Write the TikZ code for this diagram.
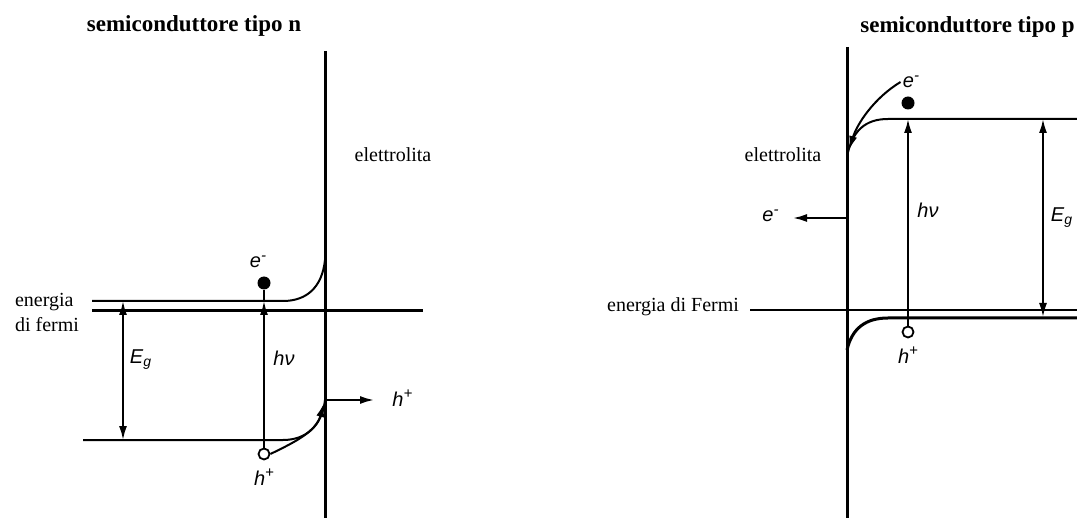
\documentclass[tikz,border=0pt]{standalone}
\usepackage{fontspec}
\setmainfont{Liberation Serif}
\setsansfont{Liberation Sans}
\usetikzlibrary{arrows.meta}
\newcommand{\upsc}[1]{\raisebox{0.7ex}{\fontsize{7.5}{8}\selectfont #1}}
\begin{document}
\begin{tikzpicture}[x=0.5pt, y=-0.5pt, font=\fontsize{10}{12.5}\selectfont,
    band/.style={line width=1pt},
    iface/.style={line width=1.5pt},
    tip/.style={-{Latex[length=7pt,width=4pt]}},
    twotip/.style={{Latex[length=7pt,width=4pt]}-{Latex[length=7pt,width=4pt]}},
    lab/.style={font=\sffamily\itshape\fontsize{10}{11}\selectfont, inner sep=1pt},
    titlelab/.style={font=\bfseries\fontsize{11.5}{13}\selectfont},
    hole/.style={circle, draw, line width=0.9pt, fill=white, minimum size=5.5pt, inner sep=0pt},
    elec/.style={circle, fill, minimum size=6.5pt, inner sep=0pt}]
  \useasboundingbox (0,0) rectangle (1077,518);
  % tipo n
  \node[titlelab] (titN) at (194,26) {semiconduttore tipo n};
  \node (elN) at (393,155) {elettrolita};
  \node[anchor=west, align=left] (fermiN) at (8,312) {energia\\di fermi};
  \draw[iface] (325,51) -- (325,518);
  \draw[iface] (92,311) -- (423,311);
  \draw[band] (92,301) -- (283,301) .. controls (306,301) and (322,288) .. (325,260);
  \draw[band] (83,440) -- (283,440) .. controls (306,440) and (322,426) .. (325,400);
  \node[elec] (eN) at (264,283) {};
  \node[hole] (hN) at (264,454) {};
  \coordinate (cbN) at (264,301);
  \draw[band] (cbN) -- (eN);
  \draw[band, tip] (hN) -- (cbN);
  \node[lab] (eLabN) at (258,262) {e\upsc{-}};
  \node[lab] (hLabN) at (264,477) {h\upsc{+}};
  \node[lab] (hvN) at (284,358) {hν};
  \coordinate (egTopN) at (123,301);
  \coordinate (egBotN) at (123,440);
  \draw[band, twotip] (egTopN) -- (egBotN);
  \node[lab] (EgN) at (141,360) {E\textsubscript{g}};
  \coordinate (exitN) at (324,403);
  \draw[band, tip] (hN.east) .. controls (293,443) and (316,432) .. (exitN);
  \coordinate (outN) at (325,400);
  \node[lab, anchor=west] (hOutN) at (390,398) {h\upsc{+}};
  \draw[band, tip, shorten >=8pt] (outN) -- (hOutN.west |- outN);
  % tipo p
  \node[titlelab, anchor=east, inner sep=1pt] (titP) at (1077,27) {semiconduttore tipo p};
  \node (elP) at (783,155) {elettrolita};
  \node[anchor=east] (fermiP) at (746,307) {energia di Fermi};
  \draw[iface] (847,47) -- (847,518);
  \draw[band] (750,310) -- (1077,310);
  \draw[band] (847,157) .. controls (852,130) and (866,119) .. (888,119) -- (1077,119);
  \draw[iface] (847,350) .. controls (852,328) and (866,318) .. (888,318) -- (1077,318);
  \node[elec] (eP) at (908,103) {};
  \node[hole] (hP) at (908,332) {};
  \coordinate (cbP) at (908,119);
  \draw[band, tip] (hP) -- (cbP);
  \node[lab] (eLabP) at (911,82) {e\upsc{-}};
  \node[lab] (hLabP) at (908,355) {h\upsc{+}};
  \node[lab] (hvP) at (928,210) {hν};
  \coordinate (egTopP) at (1043,119);
  \coordinate (egBotP) at (1043,317);
  \draw[band, twotip] (egTopP) -- (egBotP);
  \node[lab] (EgP) at (1062,218) {E\textsubscript{g}};
  \coordinate (inP) at (849,150);
  \draw[band, tip] (eLabP.west) .. controls (874,98) and (857,124) .. (inP);
  \coordinate (outP) at (847,218);
  \node[lab, anchor=east] (eOutP) at (781,216) {e\upsc{-}};
  \draw[band, tip, shorten >=6pt] (outP) -- (eOutP.east |- outP);
\end{tikzpicture}
\end{document}
